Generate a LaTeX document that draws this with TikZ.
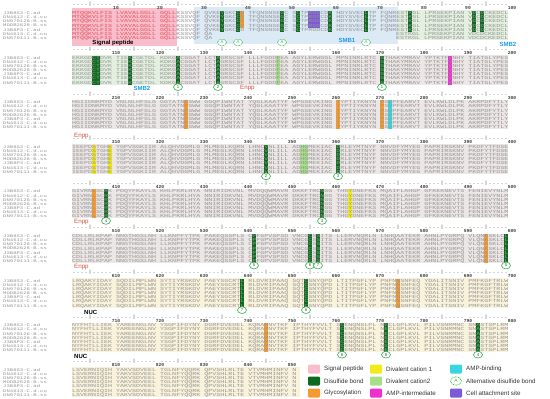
\documentclass[tikz,border=0pt]{standalone}
\usepackage{fontspec}
\usepackage{graphicx}
\setmainfont{Liberation Sans}
\newfontfamily\seqfont{Liberation Mono}
\usetikzlibrary{shapes.geometric}

\definecolor{sigpink}{HTML}{F8BECB}
\definecolor{sigred}{HTML}{E4505C}
\definecolor{smbblue}{HTML}{DCEAF6}
\definecolor{smbgreen}{HTML}{E4F0DF}
\definecolor{enppgray}{HTML}{EDE6E6}
\definecolor{nucbeige}{HTML}{FAF3DC}
\definecolor{seqgray}{HTML}{949494}
\definecolor{disulf}{HTML}{0C6A1F}
\definecolor{glyc}{HTML}{F59A30}
\definecolor{catone}{HTML}{F3EA1C}
\definecolor{cattwo}{HTML}{A6DE8A}
\definecolor{ampint}{HTML}{EE30CF}
\definecolor{ampbind}{HTML}{38D6E0}
\definecolor{cellatt}{HTML}{7B5AD6}
\definecolor{circgreen}{HTML}{2DB34A}
\definecolor{smbtext}{HTML}{1E9BE8}
\definecolor{enpptext}{HTML}{C8553D}

\newcommand{\sq}[1]{\scalebox{1}[0.7]{#1}}

\newcommand{\hlcol}[3][7]{%
  \pgfmathtruncatemacro{\hlb}{floor((#2-1)/100)}%
  \pgfmathtruncatemacro{\hlr}{mod(#2-1,100)}%
  \pgfmathsetmacro{\hlx}{72+44*floor(\hlr/10)+4*mod(\hlr,10)}%
  \pgfmathsetmacro{\hly}{5+44.6*\hlb+5.9}%
  \fill[#3] (\hlx,\hly) rectangle ++(4,{4.15*#1});%
}

\newcommand{\bondmark}[3][bondcirc]{%
  \pgfmathtruncatemacro{\bmb}{floor((#2-1)/100)}%
  \pgfmathtruncatemacro{\bmr}{mod(#2-1,100)}%
  \pgfmathsetmacro{\bmx}{72+44*floor(\bmr/10)+4*mod(\bmr,10)+2}%
  \pgfmathsetmacro{\bmy}{5+44.6*\bmb+37.5}%
  \node[#1] (c#2) at (\bmx,\bmy) {#3};%
}

\def\seqA{\textcolor{sigred}{MTQQKVLFIS LVAVALGGLL GQLL}KSSVQF QVKEYGKCCD TFQNSNSEGC SCTPRGDCDK HDYSVECLTP FQNRESTKGL LPRSEKPIAN VDCDCKEDCL}
\def\seqB{EKKGDCTDVK TIEKCGETDL KDKGACGGAT LCTAGRSCSF LLLFGDDFEA AGYLERWGGL MPNINRLRTC GTHAKYMRAV YPTKTFVNHY TIATGLYPES}
\def\seqC{HGIIDNKMYD VNLNLHFSLG GGTATNPSWW GGQPIWNTAT YQGLKAATYF WPGSEVKING TYPTIYKNYN PSVPFEARVT EVLKWLDLPK AKRPDFYTLY}
\def\seqD{IEEPDSTGHE YGPVSGKIIR ALQHVDGMLG MLMEGLKQRN LHNCVNLILL ADHGMEKIAC DRLEYMTNYF NNVDFYMYEG PAPRIRSKNV PKDFYTFDSE}
\def\seqE{GIVRNLSCRK PDQYFKAYLS KHLPKRLHYA NNIRIDKVNL MVDQQWMAVR DKKFTRCNGG THGYDNEFKS MQAIFLAHGP GFKEKNEVTS FENIEVYNLM}
\def\seqF{CDLLRLKPAP NNGTHGSLNH LLKNPFYTPK PAKEQSSPLS CPFGPVSPSD VNCGCSSITS LLERVNQRLN LNHQAATEKR AHNLPYGRPQ VLQNKSKLCL}
\def\seqG{LRQAKYIDAY SQDILMPLWN SYTIYRSKDV PAEYSGCRTL RLDVRIPAAQ SQTCSNYQPD LTITPGFLYP PNFNNSNFEQ YDALITSNIV PMFKGFTRLW}
\def\seqH{NYFHTLLIEK YAREENGLNV YSGPIFDYNY DGRFDVEDEL KQRAMNVTKF IPTHYFVVLT SCENQNSLPL NECLGPLKVL PILVSNRMNC SNASTSPLRM}
\def\seqI{LSVERNIQIH YAKVSDVEEL TGLNFYQQRK QPVSHLRLTE VTVMHMINFV N}

\tikzset{
  seqtext/.style={anchor=base west, inner sep=0pt, text=seqgray, font=\seqfont\fontsize{6.67}{7}\selectfont},
  nametext/.style={anchor=base west, inner sep=0pt, text=seqgray, font=\seqfont\fontsize{5.6}{6}\selectfont},
  rulertext/.style={anchor=base west, inner sep=0pt, text=black!60, font=\seqfont\fontsize{6.67}{7}\selectfont},
  numtext/.style={inner sep=0pt, text=black!75, font=\seqfont\bfseries\fontsize{4.6}{5}\selectfont},
  regionlabel/.style={inner sep=0pt, font=\bfseries\fontsize{6}{7}\selectfont},
  smblabel/.style={regionlabel, text=smbtext},
  enpplabel/.style={anchor=west, inner sep=0pt, text=enpptext, font=\fontsize{6.2}{7}\selectfont},
  nuclabel/.style={regionlabel, anchor=west},
  bondcirc/.style={ellipse, draw=circgreen, line width=0.6pt, fill=white, minimum width=9pt, minimum height=6.8pt, inner sep=0pt, text=black!70, font=\fontsize{4.2}{4}\selectfont},
  altcirc/.style={bondcirc, dash pattern=on 0.8pt off 0.7pt, text=circgreen},
  swatch/.style={rounded corners=1.2pt, minimum width=12pt, minimum height=9pt, inner sep=0pt},
  legendtext/.style={anchor=west, inner sep=0pt, text=black!80, font=\fontsize{6.2}{7}\selectfont}
}

\begin{document}
\begin{tikzpicture}[x=1pt,y=-1pt]
  \useasboundingbox (0,0) rectangle (550,399);

  \fill[sigpink] (72,8) rectangle (177,46);
  \fill[smbblue] (194,7) rectangle (398,44);
  \fill[smbgreen] (398,10) rectangle (508,40);
  \fill[smbgreen] (72,55.2) rectangle (172,84.6);
  \fill[enppgray] (172,55.2) rectangle (508,84.6);
  \foreach \blk in {3,...,6}
    \fill[enppgray] (72,{5+44.6*(\blk-1)+5.6}) rectangle (508,{5+44.6*(\blk-1)+35});
  \foreach \blk in {7,8}
    \fill[nucbeige] (72,{5+44.6*(\blk-1)+5.6}) rectangle (508,{5+44.6*(\blk-1)+35});
  \fill[nucbeige] (72,367.4) rectangle (300,396.8);

  \foreach \r in {35,39,49,52,60,68,78,92,94} \hlcol[5]{\r}{disulf};
  \hlcol[4]{40}{glyc};
  \foreach \r in {55,56,57} \hlcol[4]{\r}{cellatt};
  \foreach \r in {106,107,114,125,134,171,345,361,409,458,542,555,557,600,640,654,762,772,793} \hlcol{\r}{disulf};
  \foreach \r in {227,261,271,406,595,675,745} \hlcol{\r}{glyc};
  \foreach \r in {148,353,354} \hlcol{\r}{cattwo};
  \foreach \r in {306,310,464} \hlcol{\r}{catone};
  \hlcol{187}{ampint};
  \hlcol{273}{ampbind};

  \foreach \blk in {1,...,9}
    \foreach \nm [count=\i from 0] in {J3B8S3-C.ad,DN4612-C.d.cu,DN970126-B.ss,MODB2628-B.ss,J3B8P3-C.ad,DN4613-C.d.cu,DN970111-B.ss}
      \node[nametext] (n\blk-\i) at (3,{5+44.6*(\blk-1)+8+4.15*\i+1.5}) {\sq{\nm}};

  \foreach \blk/\bseq/\ng/\nr in {1/\seqA/10/4,2/\seqB/10/6,3/\seqC/10/6,4/\seqD/10/6,5/\seqE/10/6,6/\seqF/10/6,7/\seqG/10/6,8/\seqH/10/6,9/\seqI/5/6} {
    \pgfmathsetmacro{\yb}{5+44.6*(\blk-1)}
    \foreach \k in {1,...,\ng} {
      \pgfmathtruncatemacro{\rnum}{100*(\blk-1)+10*\k}
      \node[rulertext] (r\blk-\k) at ({72+44*(\k-1)},{\yb+0.8}) {\sq{....|.....}};
      \node[numtext] (t\blk-\k) at ({72+44*\k},{\yb+3.4}) {\rnum};
    }
    \foreach \i in {0,...,\nr}
      \node[seqtext] (s\blk-\i) at (72,{\yb+8+4.15*\i+1.55}) {\sq{\bseq}};
  }
  \foreach \i in {5,6} {
    \node[seqtext] (s1-\i) at (72,{13+4.15*\i+1.55}) {\sq{\textcolor{sigred}{MTQQKVLFIS LVAVALGGLL GQLL}KSSVQF QA}};
    \node[seqtext] (u1-\i) at (396,{13+4.15*\i+1.55}) {\sq{ESTKGL LPRSEKPIAN VDCDCKEDCL}};
  }

  \foreach \r in {35,39,49,68} \bondmark[altcirc]{\r}{A};
  \bondmark{125}{1}
  \bondmark{134}{2}
  \bondmark{171}{1}
  \bondmark{345}{2}
  \bondmark{361}{3}
  \bondmark{409}{4}
  \bondmark{458}{3}
  \bondmark{542}{5}
  \bondmark{555}{6}
  \bondmark{557}{7}
  \bondmark{600}{5}
  \bondmark{640}{7}
  \bondmark{654}{6}
  \bondmark{762}{8}
  \bondmark{772}{8}
  \bondmark{793}{4}

  \node[regionlabel] (sp) at (113,43) {Signal peptide};
  \node[smblabel] (smbone) at (347,40) {SMB1};
  \node[smblabel] (smbtwoa) at (508,44) {SMB2};
  \node[smblabel] (smbtwob) at (142,88) {SMB2};
  \node[enpplabel] (enppa) at (240,88.5) {Enpp};
  \node[enpplabel] (enppb) at (74,136.5) {Enpp};
  \node[enpplabel] (enppc) at (74,222.5) {Enpp};
  \node[enpplabel] (enppd) at (74,267) {Enpp};
  \node[nuclabel] (nuca) at (84,312) {NUC};
  \node[nuclabel] (nucb) at (74,356) {NUC};

  \foreach \lx/\ly/\col/\txt [count=\j] in {314/369/sigpink/Signal peptide,314/381/disulf/Disulfide bond,314/393/glyc/Glycosylation,376/369/catone/Divalent cation 1,376/381/cattwo/Divalent cation2,376/393/ampint/AMP-intermediate,456/369/ampbind/AMP-binding,456/393/cellatt/Cell attachment site} {
    \node[swatch, fill=\col] (sw\j) at (\lx,\ly) {};
    \node[legendtext] (lt\j) at (\lx+10,\ly) {\txt};
  }
  \node[altcirc, minimum width=11pt, minimum height=8.5pt, font=\fontsize{5}{5}\selectfont] (swalt) at (456,381) {A};
  \node[legendtext] (ltalt) at (466,381) {Alternative disulfide bond};
\end{tikzpicture}
\end{document}
